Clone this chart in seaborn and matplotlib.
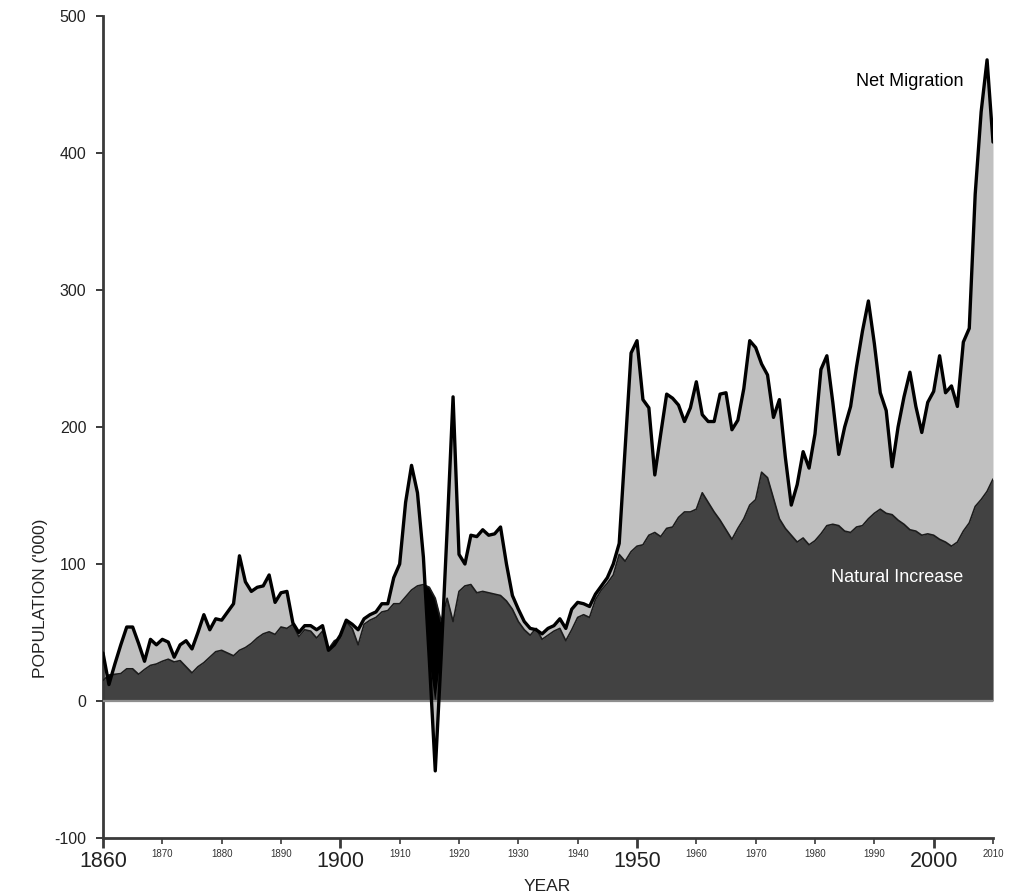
import numpy as np
import pandas as pd
import matplotlib
matplotlib.use("Agg")
import matplotlib.pyplot as plt
import seaborn as sns

# Annual population increase ('000), 1860-2010
years = list(range(1860, 2011))

total_increase = [
    35, 12, 27, 41, 54, 54, 42, 29, 45, 41,            # 1860s
    45, 43, 32, 41, 44, 38, 50, 63, 52, 60,            # 1870s
    59, 65, 71, 106, 87, 80, 83, 84, 92, 72,           # 1880s
    79, 80, 57, 50, 55, 55, 52, 55, 37, 41,            # 1890s
    48, 59, 56, 52, 60, 63, 65, 71, 71, 90,            # 1900s
    100, 145, 172, 152, 105, 30, -51, 33, 125, 222,    # 1910s
    107, 100, 121, 120, 125, 121, 122, 127, 100, 77,   # 1920s
    67, 58, 53, 52, 49, 53, 55, 60, 53, 67,            # 1930s
    72, 71, 69, 78, 84, 90, 100, 115, 185, 254,        # 1940s
    263, 220, 214, 165, 195, 224, 221, 216, 204, 214,  # 1950s
    233, 209, 204, 204, 224, 225, 198, 205, 228, 263,  # 1960s
    258, 246, 238, 207, 220, 178, 143, 158, 182, 170,  # 1970s
    195, 242, 252, 218, 180, 200, 215, 244, 270, 292,  # 1980s
    261, 225, 212, 171, 200, 222, 240, 215, 196, 218,  # 1990s
    226, 252, 225, 230, 215, 262, 272, 370, 430, 468,  # 2000s
    408,                                               # 2010
]

natural_increase = [
    15, 19, 19.5, 20, 23.5, 23.5, 19.5, 23, 26, 27,
    29, 30.5, 28.5, 29.5, 25, 20.5, 25, 28, 32, 36,
    37, 35, 33, 37, 39, 42, 46, 49, 50.5, 48.6,
    54, 53, 56, 47, 52, 51, 46, 51, 38, 44,
    46, 58, 53, 41, 56, 59, 61, 65, 66, 71,
    71, 76, 81, 84, 85, 83, 75, 58, 75, 58,
    80, 84, 85, 79, 80, 79, 78, 77, 73, 67,
    58, 52, 48, 53, 45, 48, 51, 53, 44, 52,
    61, 63, 61, 74, 81, 86, 92, 107, 102, 109,
    113, 114, 121, 123, 120, 126, 127, 134, 138, 138,
    140, 152, 145, 138, 132, 125, 118, 126, 133, 143,
    147, 167, 163, 148, 133, 126, 121, 116, 119, 114,
    117, 122, 128, 129, 128, 124, 123, 127, 128, 133,
    137, 140, 137, 136, 132, 129, 125, 124, 121, 122,
    121, 118, 116, 113, 116, 124, 130, 142, 147, 153,
    162,
]

major_years = [1860, 1900, 1950, 2000]
minor_years = [1870, 1880, 1890, 1910, 1920, 1930, 1940,
               1960, 1970, 1980, 1990, 2010]
y_ticks = [-100, 0, 100, 200, 300, 400, 500]

df = pd.DataFrame({"year": years,
                   "total": total_increase,
                   "natural": natural_increase})

sns.set_style("ticks")
plt.rcParams["font.family"] = ["Liberation Sans", "DejaVu Sans"]

W, H = 1011, 896
fig = plt.figure(figsize=(W / 100, H / 100), dpi=100)
ax = fig.add_axes([103 / W, 1 - 838 / H, 890 / W, (838 - 16) / H])

LIGHT = "#c0c0c0"
DARK = "#424242"
AXIS = "#3a3a3a"

x = df["year"].to_numpy(float)
tot = df["total"].to_numpy(float)
nat = df["natural"].to_numpy(float)

# Net migration band (light), natural increase (dark), net emigration (black)
ax.fill_between(x, 0, tot, color=LIGHT, lw=0, zorder=1)
ax.fill_between(x, 0, nat, color=DARK, lw=0, zorder=2)
ax.fill_between(x, np.maximum(tot, 0), nat, where=nat > tot,
                interpolate=True, color="black", lw=0, zorder=3)
ax.axhline(0, color="#8e8e8e", lw=1.6, zorder=4)

sns.lineplot(data=df, x="year", y="natural", color="#1c1c1c",
             linewidth=1.2, ax=ax, zorder=5)
sns.lineplot(data=df, x="year", y="total", color="black",
             linewidth=2.4, ax=ax, zorder=6)

ax.set_xlim(1860, 2010)
ax.set_ylim(-100, 500)

for side in ("top", "right"):
    ax.spines[side].set_visible(False)
for side in ("left", "bottom"):
    ax.spines[side].set_color(AXIS)
    ax.spines[side].set_linewidth(2)

ax.set_yticks(y_ticks)
ax.set_yticklabels([str(v) for v in y_ticks])
ax.tick_params(axis="y", direction="out", length=5, width=1.4,
               color=AXIS, labelsize=11.5, pad=7, labelcolor="#222222")

ax.set_xticks(major_years)
ax.set_xticklabels([str(v) for v in major_years],
                   family=["Liberation Sans Narrow", "Liberation Sans"],
                   fontsize=15.5)
ax.set_xticks(minor_years, minor=True)
ax.set_xticklabels([str(v) for v in minor_years], minor=True, fontsize=7)
ax.tick_params(axis="x", which="major", direction="out", length=7.5,
               width=2, color=AXIS, pad=1.5, labelcolor="#222222")
ax.tick_params(axis="x", which="minor", direction="out", length=4.5,
               width=1.2, color=AXIS, pad=3.5, labelcolor="#333333")

ax.set_xlabel("YEAR", fontsize=12.5, color="#222222")
ax.xaxis.set_label_coords(0.499, -0.050)
ax.set_ylabel("POPULATION ('000)", fontsize=12.5, color="#222222")
ax.yaxis.set_label_coords(-0.062, 0.292)

ax.text(1996.0, 452, "Net Migration", ha="center", va="center",
        fontsize=13, color="black", zorder=7)
ax.text(1993.8, 90.5, "Natural Increase", ha="center", va="center",
        fontsize=13, color="white", zorder=7)

fig.savefig("out.png", dpi=100)
